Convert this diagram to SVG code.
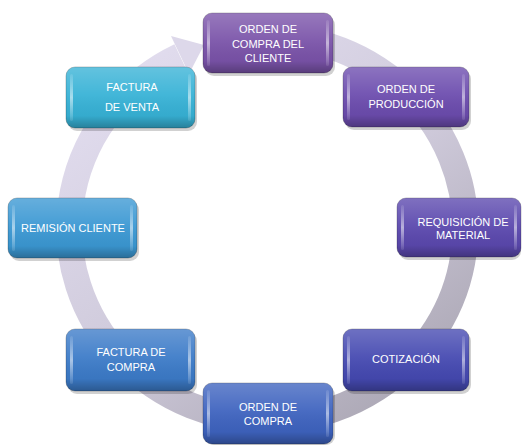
<svg xmlns="http://www.w3.org/2000/svg" width="522" height="445" viewBox="0 0 522 445">
  <defs>
    <linearGradient id="ringGrad" gradientUnits="userSpaceOnUse" x1="120" y1="40" x2="400" y2="430">
      <stop offset="0" stop-color="#e3def0"/>
      <stop offset="0.5" stop-color="#d0cbdc"/>
      <stop offset="1" stop-color="#a9a5b2"/>
    </linearGradient>
    <linearGradient id="gloss" x1="0" y1="0" x2="0" y2="1">
      <stop offset="0" stop-color="#ffffff" stop-opacity="0.22"/>
      <stop offset="0.45" stop-color="#ffffff" stop-opacity="0.06"/>
      <stop offset="0.8" stop-color="#000000" stop-opacity="0.04"/>
      <stop offset="1" stop-color="#000000" stop-opacity="0.28"/>
    </linearGradient>
    <linearGradient id="side" x1="0" y1="0" x2="0" y2="1">
      <stop offset="0" stop-color="#ffffff" stop-opacity="0.1"/>
      <stop offset="0.5" stop-color="#ffffff" stop-opacity="0.55"/>
      <stop offset="1" stop-color="#ffffff" stop-opacity="0.1"/>
    </linearGradient>
  </defs>
  <style>
    .shadow { fill: #000; opacity: 0.18; }
    .box { stroke: #000; stroke-opacity: 0.22; stroke-width: 1; }
    .gl { fill: url(#gloss); }
    .hl { fill: url(#side); }
    .t { font-family: "Liberation Sans", Arial, sans-serif; font-size: 11px; fill: #ffffff; text-anchor: middle; }
  </style>
  <rect width="522" height="445" fill="#ffffff"/>

  <g id="connectors">
    <path d="M 319 43 A 198 192 0 1 1 180 56" fill="none" stroke="url(#ringGrad)" stroke-width="26"/>
    <polygon points="171,36 189,74 204,45" fill="#ddd8ea"/>
  </g>

  <g id="n1">
    <rect class="shadow" x="205" y="16" width="130" height="60" rx="9"/>
    <rect class="box" x="203" y="13" width="130" height="60" rx="9" fill="#7a53a9"/>
    <rect class="gl" x="203" y="13" width="130" height="60" rx="9"/>
    <rect class="hl" x="207" y="20" width="3" height="46" rx="1.5"/>
    <rect class="hl" x="326" y="20" width="3" height="46" rx="1.5"/>
    <text class="t" x="268" y="33">ORDEN DE</text>
    <text class="t" x="268" y="47.5">COMPRA DEL</text>
    <text class="t" x="268" y="62">CLIENTE</text>
  </g>

  <g id="n2">
    <rect class="shadow" x="345" y="70" width="126" height="60" rx="9"/>
    <rect class="box" x="343" y="67" width="126" height="60" rx="9" fill="#6c4cae"/>
    <rect class="gl" x="343" y="67" width="126" height="60" rx="9"/>
    <rect class="hl" x="347" y="74" width="3" height="46" rx="1.5"/>
    <rect class="hl" x="462" y="74" width="3" height="46" rx="1.5"/>
    <text class="t" x="406" y="93">ORDEN DE</text>
    <text class="t" x="406" y="108">PRODUCCIÓN</text>
  </g>

  <g id="n3">
    <rect class="shadow" x="399" y="201" width="122" height="59" rx="9"/>
    <rect class="box" x="397" y="198" width="124" height="59" rx="9" fill="#5b48ae"/>
    <rect class="gl" x="397" y="198" width="124" height="59" rx="9"/>
    <rect class="hl" x="401" y="205" width="3" height="45" rx="1.5"/>
    <rect class="hl" x="514" y="205" width="3" height="45" rx="1.5"/>
    <text class="t" x="463" y="226">REQUISICIÓN DE</text>
    <text class="t" x="463" y="239">MATERIAL</text>
  </g>

  <g id="n4">
    <rect class="shadow" x="345" y="332" width="126" height="62" rx="9"/>
    <rect class="box" x="343" y="329" width="126" height="62" rx="9" fill="#4549b1"/>
    <rect class="gl" x="343" y="329" width="126" height="62" rx="9"/>
    <rect class="hl" x="347" y="336" width="3" height="48" rx="1.5"/>
    <rect class="hl" x="462" y="336" width="3" height="48" rx="1.5"/>
    <text class="t" x="406" y="363">COTIZACIÓN</text>
  </g>

  <g id="n5">
    <rect class="shadow" x="205" y="386" width="130" height="59" rx="9"/>
    <rect class="box" x="203" y="383" width="130" height="61" rx="9" fill="#3e63bf"/>
    <rect class="gl" x="203" y="383" width="130" height="61" rx="9"/>
    <rect class="hl" x="207" y="390" width="3" height="47" rx="1.5"/>
    <rect class="hl" x="326" y="390" width="3" height="47" rx="1.5"/>
    <text class="t" x="268" y="411">ORDEN DE</text>
    <text class="t" x="268" y="425">COMPRA</text>
  </g>

  <g id="n6">
    <rect class="shadow" x="68" y="332" width="129" height="62" rx="9"/>
    <rect class="box" x="66" y="329" width="129" height="62" rx="9" fill="#3c7bc8"/>
    <rect class="gl" x="66" y="329" width="129" height="62" rx="9"/>
    <rect class="hl" x="70" y="336" width="3" height="48" rx="1.5"/>
    <rect class="hl" x="188" y="336" width="3" height="48" rx="1.5"/>
    <text class="t" x="131" y="356">FACTURA DE</text>
    <text class="t" x="131" y="371">COMPRA</text>
  </g>

  <g id="n7">
    <rect class="shadow" x="10" y="201" width="129" height="60" rx="9"/>
    <rect class="box" x="8" y="198" width="129" height="60" rx="9" fill="#3b98d3"/>
    <rect class="gl" x="8" y="198" width="129" height="60" rx="9"/>
    <rect class="hl" x="12" y="205" width="3" height="46" rx="1.5"/>
    <rect class="hl" x="130" y="205" width="3" height="46" rx="1.5"/>
    <text class="t" x="73" y="232">REMISIÓN CLIENTE</text>
  </g>

  <g id="n8">
    <rect class="shadow" x="68" y="70" width="129" height="61" rx="9"/>
    <rect class="box" x="66" y="67" width="129" height="61" rx="9" fill="#37b2d6"/>
    <rect class="gl" x="66" y="67" width="129" height="61" rx="9"/>
    <rect class="hl" x="70" y="74" width="3" height="47" rx="1.5"/>
    <rect class="hl" x="188" y="74" width="3" height="47" rx="1.5"/>
    <text class="t" x="132" y="91">FACTURA</text>
    <text class="t" x="132" y="111">DE VENTA</text>
  </g>
</svg>
